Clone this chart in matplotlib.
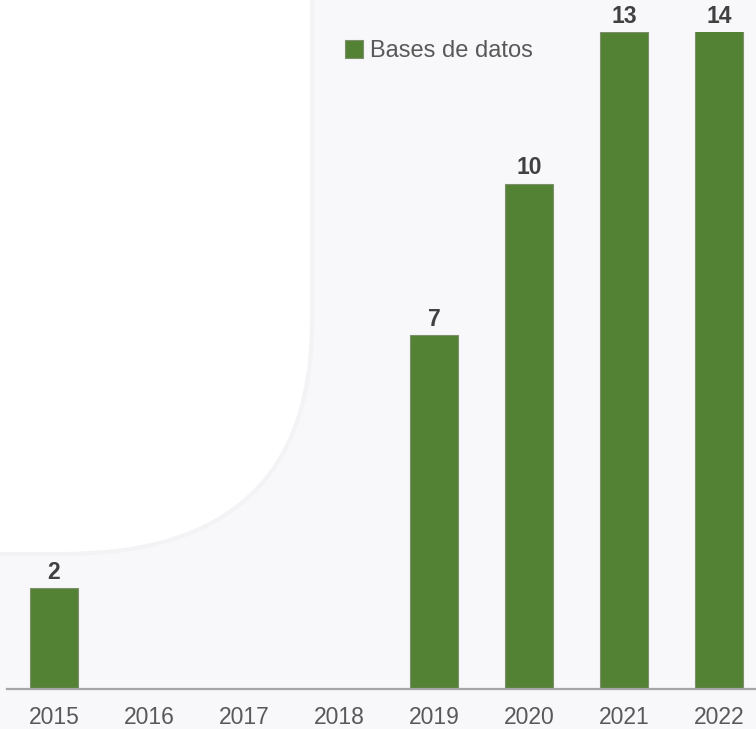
import matplotlib.pyplot as plt
from matplotlib.patches import FancyBboxPatch, Patch

plt.rcParams['font.family'] = ['Liberation Sans', 'DejaVu Sans']

# datos
years = ['2015', '2016', '2017', '2018', '2019', '2020', '2021', '2022']
counts = [2, 0, 0, 0, 7, 10, 13, 14]
series_name = 'Bases de datos'

bar_color = '#548235'
text_dark = '#404040'
text_gray = '#595959'

fig = plt.figure(figsize=(7.56, 7.29), dpi=100)
fig.patch.set_facecolor('#f8f8fa')

# fondo: zona blanca con esquina redondeada arriba a la izquierda
bg = FancyBboxPatch((-0.4, 0.24), 0.4 + 312 / 756, 1.2,
                    boxstyle='round,pad=0,rounding_size=0.33',
                    transform=fig.transFigure, facecolor='white',
                    edgecolor='#f3f3f5', linewidth=3, zorder=0,
                    mutation_aspect=729 / 756)
fig.patches.append(bg)

ax = fig.add_axes([7 / 756, 40 / 729, 749 / 756, 657 / 729])
ax.set_facecolor('none')

x = list(range(len(years)))
ax.bar(x, counts, width=0.505, color=bar_color, edgecolor='#7d8f6d',
       linewidth=0.8, zorder=3)

ymax = 13.0
ax.set_ylim(0, ymax)
ax.set_xlim(-0.495, 7.389)

# etiquetas de valor (solo barras con dato)
for xi, v in zip(x, counts):
    if v > 0:
        ax.annotate(str(v), (xi, min(v, ymax)), xytext=(0, 3),
                    textcoords='offset points', ha='center', va='bottom',
                    fontsize=16.5, fontweight='bold', color=text_dark,
                    annotation_clip=False)

ax.set_xticks(x)
ax.set_xticklabels(years, fontsize=16.5, color=text_gray)
ax.tick_params(axis='x', length=0, pad=12)
ax.set_yticks([])

for s in ['top', 'right', 'left']:
    ax.spines[s].set_visible(False)
ax.spines['bottom'].set_color('#a6a6a6')
ax.spines['bottom'].set_linewidth(1.6)
ax.spines['bottom'].set_zorder(4)

handle = Patch(facecolor=bar_color, edgecolor='#7d8f6d', linewidth=0.8)
ax.legend([handle], [series_name], loc='center left',
          bbox_to_anchor=(345 / 756, 1 - 51 / 729),
          bbox_transform=fig.transFigure, frameon=False, fontsize=17,
          labelcolor=text_gray, handlelength=0.76, handleheight=0.8,
          handletextpad=0.3, borderpad=0, borderaxespad=0)

fig.savefig('out.png', dpi=100, facecolor=fig.get_facecolor())
